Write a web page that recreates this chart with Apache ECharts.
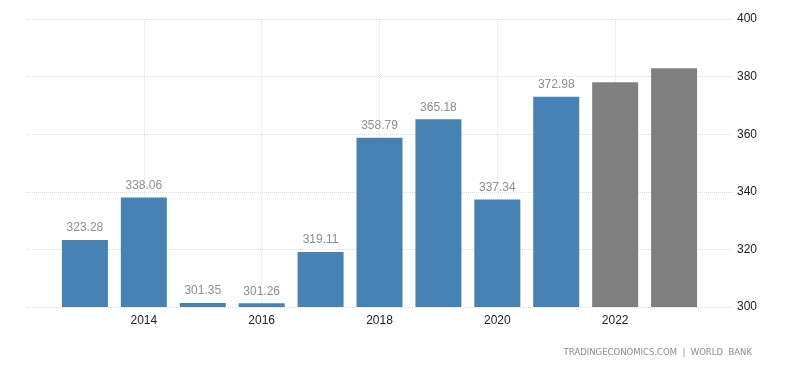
<!DOCTYPE html>
<html>
<head>
<meta charset="utf-8">
<script src="https://cdn.jsdelivr.net/npm/echarts@6/dist/echarts.min.js"></script>
<style>html,body{margin:0;padding:0;background:#fff}#c{width:800px;height:365px}</style>
</head>
<body>
<div id="c"></div>
<script>
const years = [2013, 2014, 2015, 2016, 2017, 2018, 2019, 2020, 2021];
const values = [323.28, 338.06, 301.35, 301.26, 319.11, 358.79, 365.18, 337.34, 372.98];
const forecastYears = [2022, 2023];
const forecastValues = [378.0, 382.9];
const yTicks = [300, 320, 340, 360, 380, 400];
const sourceText = 'TRADINGECONOMICS.COM  |  WORLD  BANK';

const data = years.map((y, i) => ({
  value: [y, values[i]],
  itemStyle: { color: '#4682b4' },
  label: { show: true }
})).concat(forecastYears.map((y, i) => ({
  value: [y, forecastValues[i]],
  itemStyle: { color: '#808080' },
  label: { show: false }
})));

const chart = echarts.init(document.getElementById('c'), null, { renderer: 'canvas' });
chart.setOption({
  backgroundColor: '#fff',
  animation: false,
  grid: { left: 26, right: 67, top: 19, bottom: 58 },
  xAxis: {
    type: 'value', min: 2012, max: 2024, interval: 2,
    axisLine: { show: false }, axisTick: { show: false },
    axisLabel: {
      margin: 8, color: '#222', fontSize: 12, fontFamily: 'Liberation Sans',
      formatter: v => (v === 2012 || v === 2024) ? '' : String(v)
    },
    splitLine: { show: true, showMinLine: false, showMaxLine: false, lineStyle: { color: '#e2e2e2', type: 'dotted' } }
  },
  yAxis: {
    type: 'value', position: 'right', min: yTicks[0], max: yTicks[yTicks.length - 1], interval: 20,
    axisLine: { show: false }, axisTick: { show: false },
    axisLabel: { margin: 4, color: '#222', fontSize: 12, fontFamily: 'Liberation Sans' },
    splitLine: { show: true, lineStyle: { color: '#dcdcdc', type: 'dotted' } }
  },
  series: [{
    type: 'bar',
    barWidth: 46,
    data: data,
    label: {
      position: 'top', distance: 6, color: '#8f8f8f', fontSize: 12, fontFamily: 'Liberation Sans',
      formatter: p => p.value[1].toFixed(2)
    }
  }],
  graphic: [{
    type: 'text', right: 48, top: 348,
    style: { text: sourceText, fill: '#8c8c8c', font: '8.5px "DejaVu Sans"' }
  }]
});
</script>
</body>
</html>
